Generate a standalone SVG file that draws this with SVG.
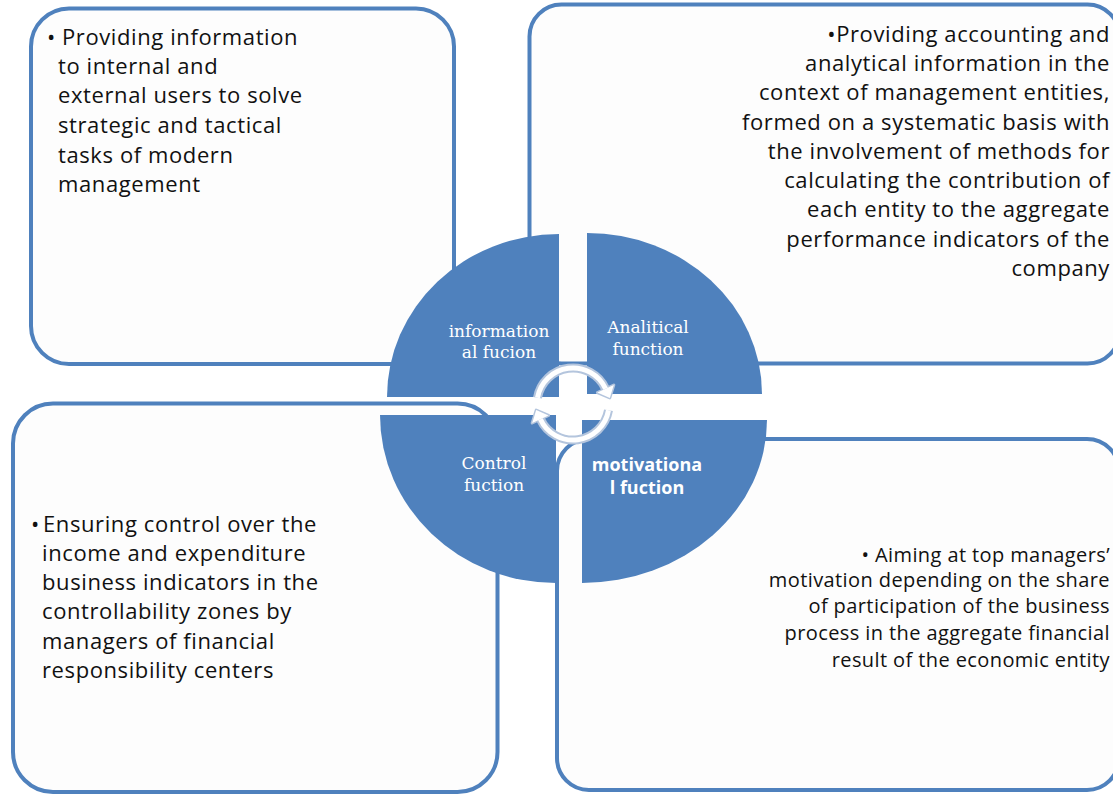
<svg xmlns="http://www.w3.org/2000/svg" width="1113" height="794" viewBox="0 0 1113 794">
<style>
.box{fill:#FDFDFD;stroke:#4F81BD;stroke-width:4}
.q{fill:#4F81BD}
.lbl{font-family:"DejaVu Serif",serif;font-size:17px;fill:#fff;text-anchor:middle}
.mot{font-family:"Open Sans","Noto Sans",sans-serif;font-weight:700;font-size:18px;fill:#fff;text-anchor:middle}
.t{font-family:"Open Sans","Noto Sans",sans-serif;font-size:22px;letter-spacing:0.6px;fill:#111}
.t4{font-family:"Open Sans","Noto Sans",sans-serif;font-size:20px;letter-spacing:0.4px;fill:#111;text-anchor:end}
.r{text-anchor:end}
.ringO{fill:none;stroke:#B4C5DD;stroke-width:9}
.ringI{fill:none;stroke:#fff;stroke-width:5}
.headO{fill:#B4C5DD;stroke:#B4C5DD;stroke-width:3;stroke-linejoin:round}
.headI{fill:#fff}
</style>
<rect width="1113" height="794" fill="#fff"/>
<g id="box-informational">
<rect class="box" x="31" y="8.5" width="423" height="355.5" rx="38"/>
<text class="t" x="47" y="45">•</text>
<text class="t" x="62" y="45">Providing information</text>
<text class="t" x="58" y="74">to internal and</text>
<text class="t" x="58" y="103">external users to solve</text>
<text class="t" x="58" y="133">strategic and tactical</text>
<text class="t" x="58" y="163">tasks of modern</text>
<text class="t" x="58" y="192">management</text>
</g>
<g id="box-analitical">
<rect class="box" x="529.5" y="4.5" width="590" height="359" rx="32"/>
<text class="t r" x="1110" y="42">•Providing accounting and</text>
<text class="t r" x="1110" y="71">analytical information in the</text>
<text class="t r" x="1110" y="100">context of management entities,</text>
<text class="t r" x="1110" y="130">formed on a systematic basis with</text>
<text class="t r" x="1110" y="159">the involvement of methods for</text>
<text class="t r" x="1110" y="188">calculating the contribution of</text>
<text class="t r" x="1110" y="217">each entity to the aggregate</text>
<text class="t r" x="1110" y="247">performance indicators of the</text>
<text class="t r" x="1110" y="276">company</text>
</g>
<g id="box-control">
<rect class="box" x="13" y="403.5" width="484.5" height="388.5" rx="40"/>
<text class="t" x="31" y="532">•</text>
<text class="t" x="43" y="532">Ensuring control over the</text>
<text class="t" x="42" y="561">income and expenditure</text>
<text class="t" x="42" y="590">business indicators in the</text>
<text class="t" x="42" y="619">controllability zones by</text>
<text class="t" x="42" y="649">managers of financial</text>
<text class="t" x="42" y="678">responsibility centers</text>
</g>
<g id="box-motivational">
<rect class="box" x="557" y="439" width="562" height="351" rx="32"/>
<text class="t4" x="1110" y="562">•  Aiming at top managers’</text>
<text class="t4" x="1110" y="587">motivation depending on the share</text>
<text class="t4" x="1110" y="613">of participation of the business</text>
<text class="t4" x="1110" y="640">process in the aggregate financial</text>
<text class="t4" x="1110" y="667">result of the economic entity</text>
</g>
<g id="node-informational">
<path class="q" d="M559,397 L387,397 A172,163 0 0 1 559,234 Z"/>
<text class="lbl" x="499" y="337">information</text>
<text class="lbl" x="499" y="358">al fucion</text>
</g>
<g id="node-analitical">
<path class="q" d="M587,394 L587,233 A175,161 0 0 1 762,394 Z"/>
<text class="lbl" x="648" y="333">Analitical</text>
<text class="lbl" x="648" y="355">function</text>
</g>
<g id="node-control">
<path class="q" d="M556,415 L556,583 A176,168 0 0 1 380,415 Z"/>
<text class="lbl" x="494" y="469">Control</text>
<text class="lbl" x="494" y="491">fuction</text>
</g>
<g id="node-motivational">
<path class="q" d="M582,420 L767,420 A185,163 0 0 1 582,583 Z"/>
<text class="mot" x="647" y="471">motivationa</text>
<text class="mot" x="647" y="494">l fuction</text>
</g>
<g id="connectors">
<path class="ringO" d="M537.5,397.7 A36,36 0 0 1 605.6,388.8"/>
<path class="ringO" d="M608.5,410.3 A36,36 0 0 1 540.4,419.2"/>
<polygon class="headO" points="613.8,385 609.8,397.9 597.4,392.6"/>
<polygon class="headO" points="532.2,423 536.2,410.1 548.6,415.4"/>
<path class="ringI" d="M537.5,397.7 A36,36 0 0 1 605.6,388.8"/>
<path class="ringI" d="M608.5,410.3 A36,36 0 0 1 540.4,419.2"/>
<polygon class="headI" points="613.8,385 609.8,397.9 597.4,392.6"/>
<polygon class="headI" points="532.2,423 536.2,410.1 548.6,415.4"/>
</g>
</svg>
